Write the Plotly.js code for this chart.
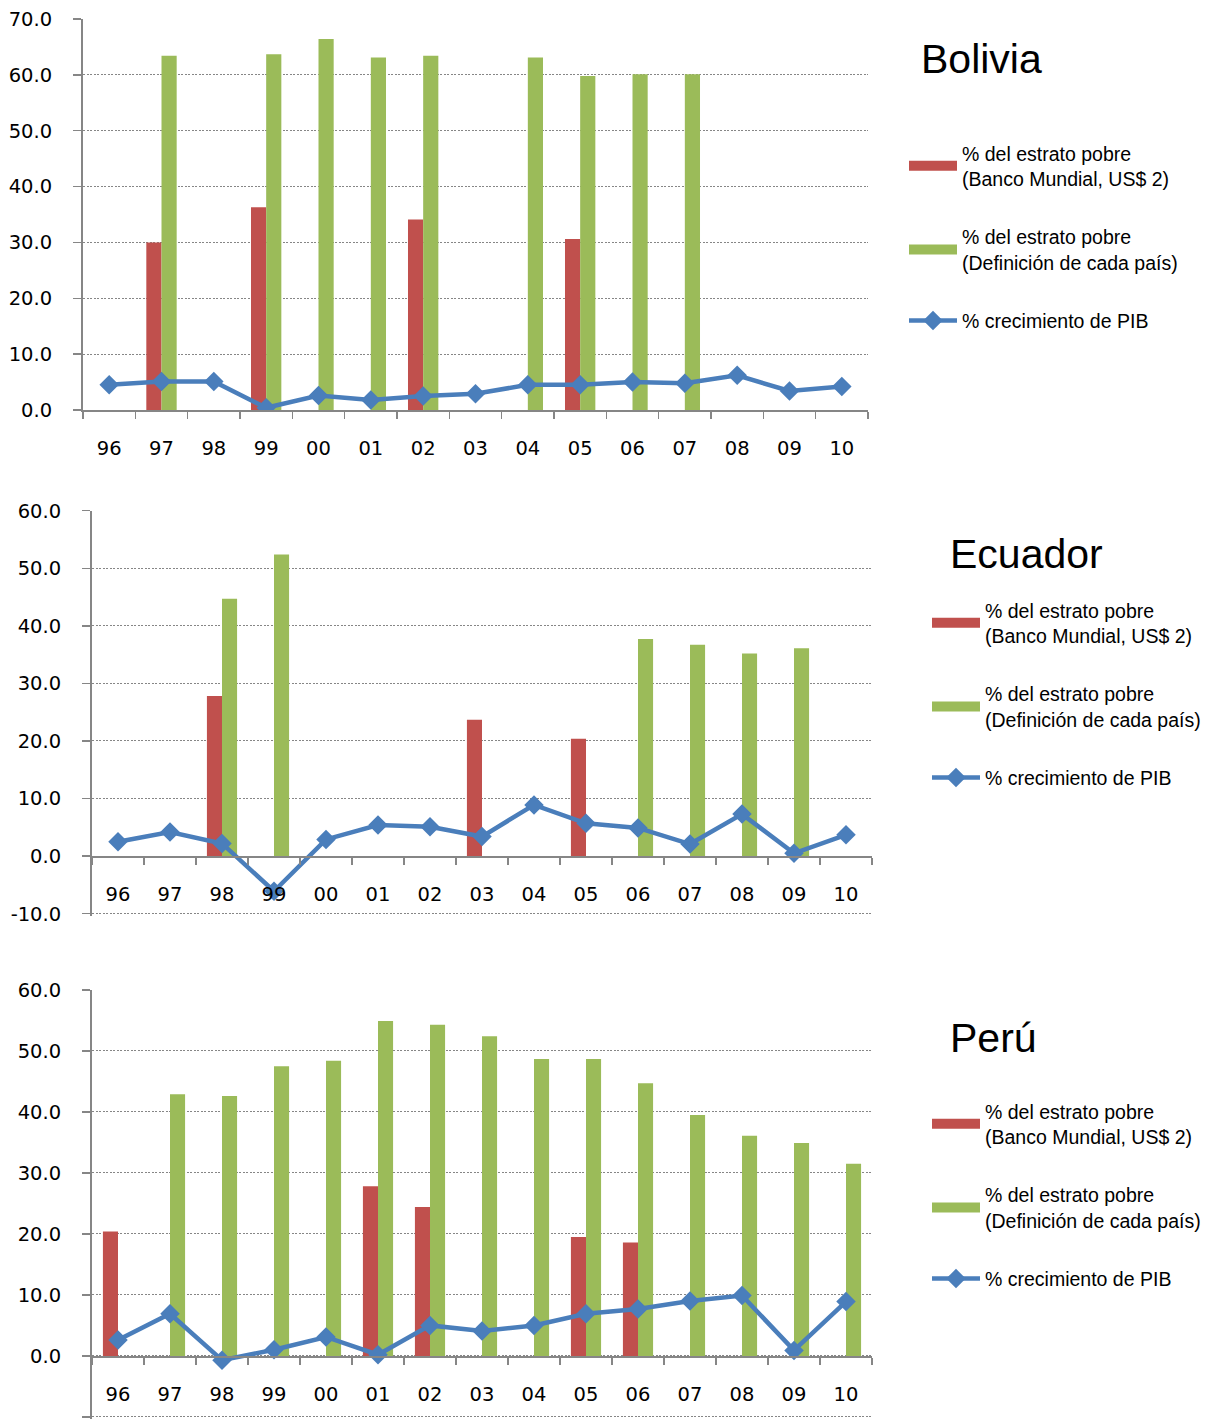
<!DOCTYPE html>
<html>
<head>
<meta charset="utf-8">
<script src="https://cdn.plot.ly/plotly-3.0.1.min.js"></script>
<style>html,body{margin:0;padding:0;background:#fff;}#chart{width:1209px;height:1427px;}</style>
</head>
<body>
<div id="chart"></div>
<script>
// ---- data ----
const years = ['96','97','98','99','00','01','02','03','04','05','06','07','08','09','10'];

const bolRed   = [null,30.0,null,36.3,null,null,34.1,null,null,30.6,null,null,null,null,null];
const bolGreen = [null,63.4,null,63.7,66.4,63.1,63.4,null,63.1,59.8,60.1,60.1,null,null,null];
const bolPIB   = [4.5,5.1,5.1,0.4,2.6,1.8,2.5,2.9,4.5,4.5,5.0,4.8,6.2,3.4,4.2];

const ecuRed   = [null,null,27.8,null,null,null,null,23.7,null,20.4,null,null,null,null,null];
const ecuGreen = [null,null,44.7,52.4,null,null,null,null,null,null,37.7,36.7,35.2,36.1,null];
const ecuPIB   = [2.5,4.2,2.2,-6.1,2.9,5.4,5.1,3.4,8.9,5.7,4.9,2.1,7.3,0.5,3.7];

const perRed   = [20.4,null,null,null,null,27.8,24.4,null,null,19.5,18.6,null,null,null,null];
const perGreen = [null,42.9,42.6,47.5,48.4,54.9,54.3,52.4,48.7,48.7,44.7,39.5,36.1,34.9,31.5];
const perPIB   = [2.6,6.9,-0.7,1.0,3.1,0.2,5.0,4.1,5.0,6.9,7.7,9.0,9.9,0.9,8.9];

const bolYTickVals = [0,10,20,30,40,50,60,70];
const bolYTickText = ['0.0','10.0','20.0','30.0','40.0','50.0','60.0','70.0'];
const andYTickVals = [-10,0,10,20,30,40,50,60];
const andYTickText = ['-10.0','0.0','10.0','20.0','30.0','40.0','50.0','60.0'];

const countries = ['Bolivia','Ecuador','Perú'];
const seriesNames = ['% del estrato pobre<br>(Banco Mundial, US$ 2)',
                     '% del estrato pobre<br>(Definición de cada país)',
                     '% crecimiento de PIB'];

// ---- styles ----
const RED = '#C0504D', GREEN = '#9BBB59', BLUE = '#4A7EBB', GRAY = '#868686';
const tickFont = {family: 'DejaVu Sans, Verdana, sans-serif', size: 19.5, color: '#000'};
const legFont = {family: 'Liberation Sans, Arial, sans-serif', size: 19.5, color: '#000'};
const titleFont = {family: 'Liberation Sans, Arial, sans-serif', size: 41, color: '#000'};

const panels = [
  {red: bolRed, green: bolGreen, pib: bolPIB, xa: 'x', ya: 'y', leg: 'legend'},
  {red: ecuRed, green: ecuGreen, pib: ecuPIB, xa: 'x2', ya: 'y2', leg: 'legend2'},
  {red: perRed, green: perGreen, pib: perPIB, xa: 'x3', ya: 'y3', leg: 'legend3'}
];

const traces = [];
panels.forEach((p, i) => {
  const g = 'g' + i;
  traces.push({type: 'bar', x: years, y: p.red, xaxis: p.xa, yaxis: p.ya, marker: {color: RED},
               name: seriesNames[0], showlegend: false, legendgroup: g + 'a'});
  traces.push({type: 'bar', x: years, y: p.green, xaxis: p.xa, yaxis: p.ya, marker: {color: GREEN},
               name: seriesNames[1], showlegend: false, legendgroup: g + 'b'});
  // legend keys (wide coloured rectangles)
  traces.push({type: 'scatter', mode: 'lines', x: [null], y: [null], xaxis: p.xa, yaxis: p.ya,
               line: {color: RED, width: 13}, name: seriesNames[0], legend: p.leg, legendgroup: g + 'a'});
  traces.push({type: 'scatter', mode: 'lines', x: [null], y: [null], xaxis: p.xa, yaxis: p.ya,
               line: {color: GREEN, width: 13}, name: seriesNames[1], legend: p.leg, legendgroup: g + 'b'});
  traces.push({type: 'scatter', mode: 'lines+markers', x: years, y: p.pib, xaxis: p.xa, yaxis: p.ya,
               line: {color: BLUE, width: 4.5}, marker: {symbol: 'diamond', size: 15, color: BLUE},
               name: seriesNames[2], legend: p.leg, legendgroup: g + 'c'});
});

const H = 1427, W = 1209;
const py = px => 1 - px / H;
const pxX = px => px / W;

function xAxis(domain, extra) {
  return Object.assign({
    domain: domain, type: 'category', categoryorder: 'array', categoryarray: years,
    range: [-0.5, years.length - 0.5],
    tickson: 'boundaries', ticks: 'outside', ticklen: 7, tickcolor: GRAY, tickwidth: 1.5,
    showline: true, linecolor: GRAY, linewidth: 2, showgrid: false, zeroline: false,
    tickfont: tickFont, ticklabelstandoff: 20, automargin: false, fixedrange: true
  }, extra);
}
function yAxis(domain, range, anchor, vals, text) {
  return {
    domain: domain, range: range, tickmode: 'array', tickvals: vals, ticktext: text, anchor: anchor,
    showgrid: true, griddash: '2px,1.5px', gridcolor: GRAY, gridwidth: 1,
    showline: true, linecolor: GRAY, linewidth: 2, ticks: 'outside', ticklen: 8, tickcolor: GRAY,
    tickwidth: 1.5, zeroline: false, tickfont: tickFont, ticklabelstandoff: 17,
    automargin: false, fixedrange: true
  };
}

function legend(xpx, ytop) {
  return {x: pxX(xpx), y: py(ytop), xanchor: 'left', yanchor: 'top', font: legFont,
          bgcolor: 'rgba(0,0,0,0)', borderwidth: 0, itemwidth: 48, traceorder: 'grouped',
          tracegroupgap: 30, itemclick: false, itemdoubleclick: false};
}

// lower panels: -10 sits 2px above the bottom edge so its dotted gridline is drawn
const lowPad = 2 * 70 / 403;

const layout = {
  width: W, height: H, margin: {l: 0, r: 0, t: 0, b: 0},
  paper_bgcolor: '#fff', plot_bgcolor: '#fff',
  barmode: 'group', bargap: 0.42, bargroupgap: 0,
  xaxis:  xAxis([pxX(83), pxX(868)], {anchor: 'y'}),
  yaxis:  yAxis([py(410), py(19)], [0, 70], 'x', bolYTickVals, bolYTickText),
  xaxis2: xAxis([pxX(92), pxX(872)], {anchor: 'free', position: py(856.5)}),
  yaxis2: yAxis([py(915.7), py(510.7)], [-10 - lowPad, 60], 'x2', andYTickVals, andYTickText),
  xaxis3: xAxis([pxX(92), pxX(872)], {anchor: 'free', position: py(1357)}),
  yaxis3: yAxis([py(1419), py(990)], [-10 - lowPad, 60], 'x3', andYTickVals, andYTickText),
  legend:  legend(904, 134),
  legend2: legend(927, 591),
  legend3: legend(927, 1092),
  annotations: [
    {text: countries[0], xref: 'paper', yref: 'paper', x: pxX(919), y: py(59), xanchor: 'left', yanchor: 'middle',
     showarrow: false, font: titleFont},
    {text: countries[1], xref: 'paper', yref: 'paper', x: pxX(948), y: py(554), xanchor: 'left', yanchor: 'middle',
     showarrow: false, font: titleFont},
    {text: countries[2], xref: 'paper', yref: 'paper', x: pxX(948), y: py(1038), xanchor: 'left', yanchor: 'middle',
     showarrow: false, font: titleFont}
  ],
  showlegend: true
};

Plotly.newPlot('chart', traces, layout, {displayModeBar: false, staticPlot: true});
</script>
</body>
</html>
